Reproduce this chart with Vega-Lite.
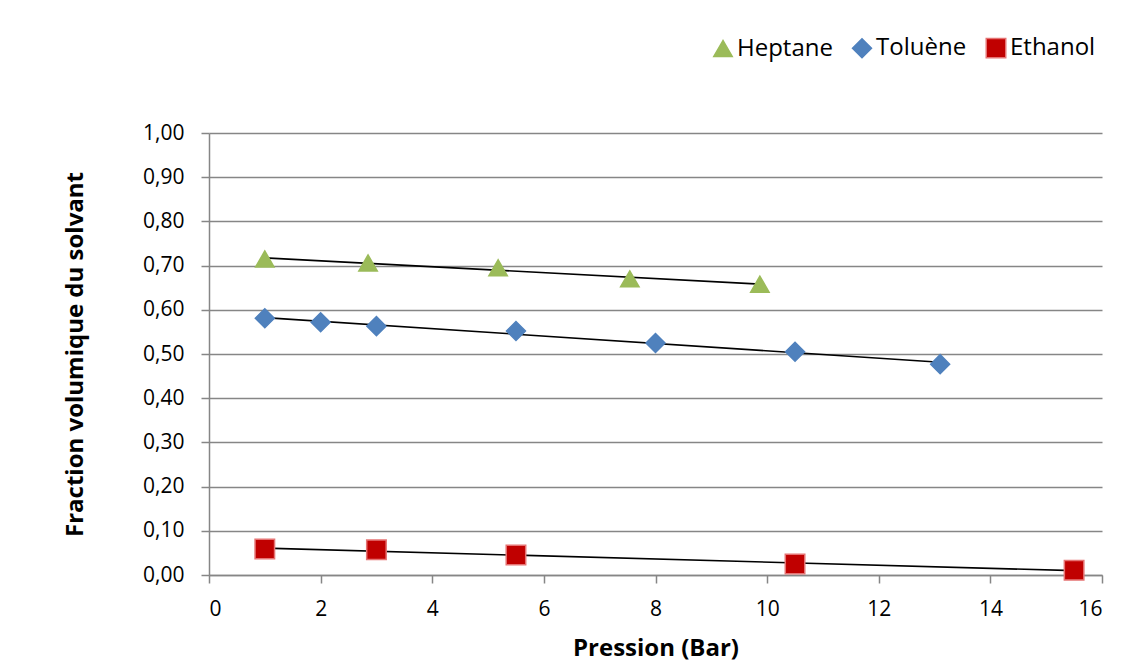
{
  "$schema": "https://vega.github.io/schema/vega-lite/v6.json",
  "width": 893,
  "height": 442,
  "autosize": {"type": "none"},
  "padding": {"left": 209, "top": 133, "right": 25, "bottom": 87},
  "background": "white",
  "config": {
    "font": "Open Sans",
    "view": {"stroke": null},
    "axis": {
      "domainColor": "#868686",
      "domainWidth": 1.5,
      "tickColor": "#868686",
      "tickWidth": 1.5,
      "tickSize": 8,
      "gridColor": "#868686",
      "gridWidth": 1.5
    }
  },
  "data": {
    "values": [
      {"serie": "Heptane", "pression": 1.0, "fraction": 0.715},
      {"serie": "Heptane", "pression": 2.85, "fraction": 0.706},
      {"serie": "Heptane", "pression": 5.18, "fraction": 0.695},
      {"serie": "Heptane", "pression": 7.54, "fraction": 0.670},
      {"serie": "Heptane", "pression": 9.87, "fraction": 0.658},
      {"serie": "Toluène", "pression": 1.0, "fraction": 0.581},
      {"serie": "Toluène", "pression": 2.0, "fraction": 0.572},
      {"serie": "Toluène", "pression": 3.0, "fraction": 0.563},
      {"serie": "Toluène", "pression": 5.5, "fraction": 0.552},
      {"serie": "Toluène", "pression": 8.0, "fraction": 0.525},
      {"serie": "Toluène", "pression": 10.5, "fraction": 0.505},
      {"serie": "Toluène", "pression": 13.1, "fraction": 0.477},
      {"serie": "Ethanol", "pression": 1.0, "fraction": 0.059},
      {"serie": "Ethanol", "pression": 3.0, "fraction": 0.057},
      {"serie": "Ethanol", "pression": 5.5, "fraction": 0.045},
      {"serie": "Ethanol", "pression": 10.5, "fraction": 0.025},
      {"serie": "Ethanol", "pression": 15.5, "fraction": 0.011}
    ]
  },
  "layer": [
    {
      "transform": [
        {"regression": "fraction", "on": "pression", "groupby": ["serie"], "method": "linear"}
      ],
      "mark": {"type": "line", "color": "black", "strokeWidth": 1.6},
      "encoding": {
        "x": {"field": "pression", "type": "quantitative"},
        "y": {"field": "fraction", "type": "quantitative"},
        "detail": {"field": "serie"}
      }
    },
    {
      "mark": {"type": "point", "filled": true, "opacity": 1, "strokeWidth": 1.5},
      "encoding": {
        "x": {
          "field": "pression", "type": "quantitative",
          "scale": {"domain": [0, 16], "nice": false},
          "axis": {"title": "Pression (Bar)", "values": [0,2,4,6,8,10,12,14,16], "format": "d", "grid": false,
                   "labelPadding": 15, "labelFontSize": 21, "labelFont": "Open Sans", "labelColor": "black",
                   "titleFontSize": 24, "titleFont": "Open Sans", "titleFontWeight": "bold", "titleColor": "black", "titleY": 61}
        },
        "y": {
          "field": "fraction", "type": "quantitative",
          "scale": {"domain": [0, 1], "nice": false},
          "axis": {
            "title": "Fraction volumique du solvant",
            "values": [0,0.1,0.2,0.3,0.4,0.5,0.6,0.7,0.8,0.9,1],
            "labelExpr": "replace(format(datum.value, '.2f'), '.', ',')",
            "labelPadding": 17, "labelFontSize": 21, "labelFont": "Open Sans", "labelColor": "black",
            "titleFontSize": 24, "titleFont": "Open Sans", "titleFontWeight": "bold", "titleColor": "black",
            "titleX": -122
          }
        },
        "shape": {
          "field": "serie", "type": "nominal",
          "scale": {"domain": ["Heptane", "Toluène", "Ethanol"], "range": ["triangle-up", "diamond", "square"]},
          "legend": {"title": null, "orient": "none", "direction": "horizontal", "legendX": 502, "legendY": -97, "columnPadding": 16, "labelOffset": 2, "labelFontSize": 24, "labelFont": "Open Sans", "labelColor": "black"}
        },
        "color": {
          "field": "serie", "type": "nominal",
          "scale": {"domain": ["Heptane", "Toluène", "Ethanol"], "range": ["#9BBB59", "#4F81BD", "#C00000"]},
          "legend": {"title": null, "orient": "none", "direction": "horizontal", "legendX": 502, "legendY": -97, "columnPadding": 16, "labelOffset": 2, "labelFontSize": 24, "labelFont": "Open Sans", "labelColor": "black"}
        },
        "stroke": {
          "field": "serie", "type": "nominal",
          "scale": {"domain": ["Heptane", "Toluène", "Ethanol"], "range": ["#9BBB59", "#4F81BD", "#E57373"]},
          "legend": {"title": null, "orient": "none", "direction": "horizontal", "legendX": 502, "legendY": -97, "columnPadding": 16, "labelOffset": 2, "labelFontSize": 24, "labelFont": "Open Sans", "labelColor": "black"}
        },
        "size": {
          "field": "serie", "type": "nominal",
          "scale": {"domain": ["Heptane", "Toluène", "Ethanol"], "range": [340, 380, 270]},
          "legend": {"title": null, "orient": "none", "direction": "horizontal", "legendX": 502, "legendY": -97, "columnPadding": 16, "labelOffset": 2, "labelFontSize": 24, "labelFont": "Open Sans", "labelColor": "black"}
        }
      }
    }
  ]
}
